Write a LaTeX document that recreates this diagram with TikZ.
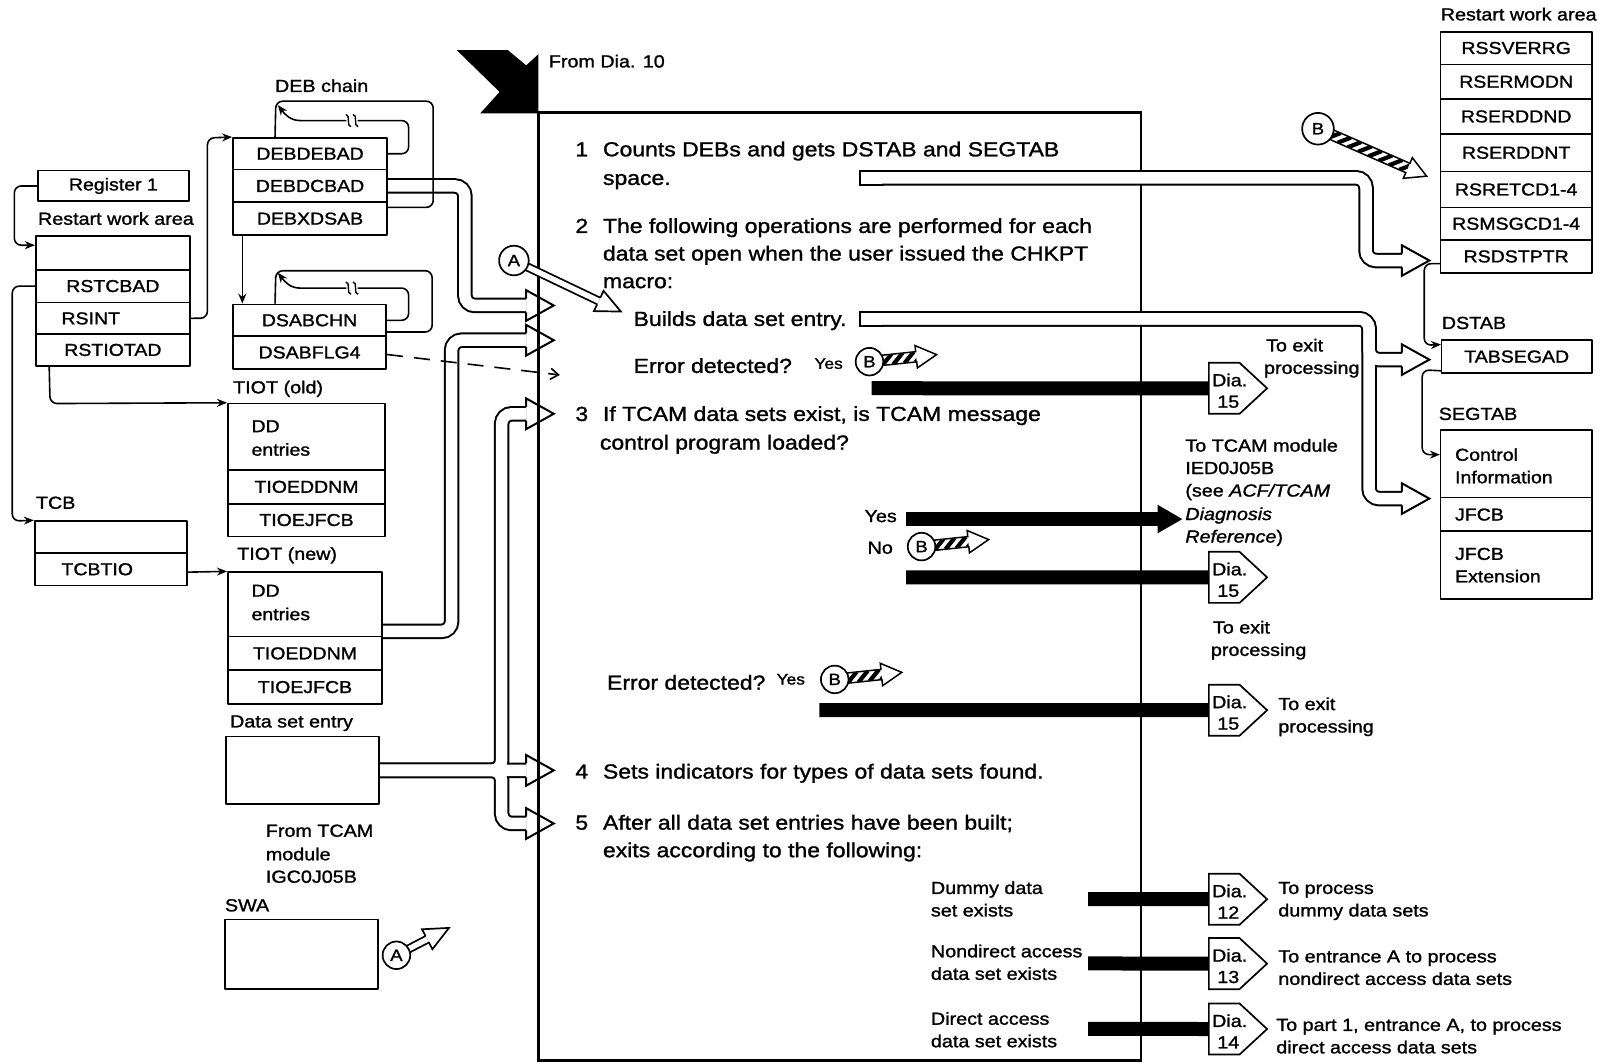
\documentclass[tikz,border=0pt]{standalone}
\usepackage{fontspec}
\setmainfont[FakeStretch=1.13,FakeBold=1.3]{Liberation Sans}
\usetikzlibrary{arrows.meta,calc}
\pgfdeclarelayer{frame}
\pgfdeclarelayer{bg}
\pgfsetlayers{frame,bg,main}
\tikzset{
  cell/.style 2 args={draw,line width=1.7pt,minimum width=#1pt,minimum height=#2pt,inner sep=0pt,font=\fontsize{16.9}{20}\selectfont},
  mt/.style={inner sep=0pt,anchor=base west,font=\fontsize{19.9}{24}\selectfont},
  lt/.style={inner sep=0pt,anchor=base west,font=\fontsize{17.1}{21}\selectfont},
  bt/.style={inner sep=0pt,anchor=base west,font=\fontsize{16.9}{20}\selectfont},
  st/.style={inner sep=0pt,anchor=base west,font=\fontsize{15}{18}\selectfont},
  ln/.style={line width=1.6pt,rounded corners=7pt},
  conn/.style={ln,-{Stealth[length=10pt,width=8pt]}},
  bar/.style={line width=14pt},
  circ/.style={circle,draw,fill=white,line width=1.7pt,minimum size=27pt,inner sep=0pt,font=\fontsize{16}{18}\selectfont},
  hh/.pic={\draw[line width=2pt,line join=miter] (0,-6.75) -- (0,-15) -- (27,0) -- (0,15) -- (0,6.75);},
  apipe/.pic={\draw[line width=9pt] (0,0) -- (#1,0); \draw[white,line width=5.4pt] (0,0) -- (#1,0);
    \draw[line width=1.7pt,line join=miter] (#1,-3.6) -- (#1,-11) -- (#1+24,0) -- (#1,11) -- (#1,3.6);},
  bh/.pic={\begin{scope}\clip (0,-5) rectangle (#1,5);
      \foreach \i in {6,17,...,130} \draw[line width=4.2pt] (\i-5,5) -- (\i+5,-5);\end{scope}
    \draw[line width=1.5pt,line join=miter] (0,-5) -- (#1,-5) -- (#1,-11) -- (#1+20,0) -- (#1,11) -- (#1,5) -- (0,5);},
  dia/.pic={\draw[line width=1.7pt,fill=white,line join=miter] (0,-25) -- (30,-25) -- (57,0) -- (30,25) -- (0,25) -- cycle;
    \node[lt] at (3,-2) {Dia.}; \node[lt,anchor=base] at (19,19) {#1};},
  brk/.pic={\draw[line width=1.4pt] (-6,-6) .. controls (-1,-6) and (-6,6) .. (-1,6);
    \draw[line width=1.4pt] (1,-6) .. controls (6,-6) and (1,6) .. (6,6);},
}
\begin{document}
\begin{tikzpicture}[x=1pt,y=-1pt,scale=1.0217,transform shape,line join=round]
\useasboundingbox (0,0) rectangle (1568,1041);

% process frame
\begin{pgfonlayer}{frame}
\draw[line width=2.4pt] (527,110) rectangle (1117,1038);
\end{pgfonlayer}
\fill (447,49) -- (497,49) -- (515,64) -- (527,53) -- (527,111) -- (470,111) -- (489,90) -- cycle;
\node[lt] (from10) at (537,66) {From Dia. 10};

% ---------- left data areas ----------
\node[cell={148}{30}] (reg) at (111,182) {Register 1};
\node[lt] (rwalbl) at (37,220) {Restart work area};
\node[cell={151}{33}] (rwa0) at (110.5,247.5) {};
\node[cell={151}{32}] (rstcbad) at (110.5,280) {RSTCBAD};
\node[cell={151}{31}] (rsint) at (110.5,311.5) {};
\node[bt] (rsintt) at (60,317.5) {RSINT};
\node[cell={151}{31}] (rstiotad) at (110.5,342.5) {RSTIOTAD};

\node[lt] (tcblbl) at (35,498) {TCB};
\node[cell={149}{31}] (tcb0) at (108.5,525.5) {};
\node[cell={149}{32}] (tcbtio) at (108.5,557) {};
\node[bt] (tcbtiot) at (60,563) {TCBTIO};

\node[lt] (deblbl) at (269,90) {DEB chain};
\node[cell={151}{31}] (debdebad) at (303.5,150.5) {DEBDEBAD};
\node[cell={151}{32}] (debdcbad) at (303.5,182) {DEBDCBAD};
\node[cell={151}{32}] (debxdsab) at (303.5,214) {DEBXDSAB};

\node[cell={150}{31}] (dsabchn) at (303,313.5) {DSABCHN};
\node[cell={150}{32}] (dsabflg4) at (303,345) {DSABFLG4};

\node[lt] (tiotoldl) at (228,385) {TIOT (old)};
\node[cell={154}{65}] (tiotold0) at (300,427.5) {};
\node[bt] (ddo1) at (246,423) {DD};
\node[bt] (ddo2) at (246,446) {entries};
\node[cell={154}{33}] (tiotold1) at (300,476.5) {TIOEDDNM};
\node[cell={154}{32}] (tiotold2) at (300,509) {TIOEJFCB};

\node[lt] (tiotnewl) at (232,548) {TIOT (new)};
\node[cell={151}{63}] (tiotnew0) at (298.5,591.5) {};
\node[bt] (ddn1) at (246,584) {DD};
\node[bt] (ddn2) at (246,607) {entries};
\node[cell={151}{33}] (tiotnew1) at (298.5,639.5) {TIOEDDNM};
\node[cell={151}{33}] (tiotnew2) at (298.5,672.5) {TIOEJFCB};

\node[lt] (dselbl) at (225,712) {Data set entry};
\node[cell={150}{66}] (dse) at (296,754) {};
\node[lt] (ftc1) at (260,819) {From TCAM};
\node[lt] (ftc2) at (260,842) {module};
\node[lt] (ftc3) at (260,864) {IGC0J05B};
\node[lt] (swalbl) at (220,892) {SWA};
\node[cell={150}{68}] (swa) at (295,934) {};

% ---------- left thin connectors ----------
\draw[conn] (reg.west) -- (14,182) -- (14,240) -- (rwa0.west |- 0,240);
\draw[conn] (rstcbad.west) -- (12,280) -- (12,510) -- (tcb0.north west);
\draw[conn] (rsint.east) -- (203,311.5) -- (203,135) -- (debdebad.north west);
\draw[conn] ($(rstiotad.south west)+(14,0)$) -- (49,395) -- (tiotold0.north west);
\draw[conn] (tcbtio.east |- 0,560) -- (tiotnew0.north west);
\draw[conn] ($(debxdsab.south west)+(10,0)$) -- ($(dsabchn.north west)+(10,0)$);

% DEB chain loops
\draw[ln] ($(debdebad.north west)+(42,0)$) -- (270,99) -- (424,99) -- (424,203) -- (debxdsab.east |- 0,203);
\draw[ln] (debdebad.east) -- (400,150.5) -- (400,118) -- (350,118);
\draw[line width=1.6pt,-{Stealth[length=10pt,width=8pt]}] (339,118) -- (294,118) .. controls (284,118) and (279,112) .. (272,103);
\pic at (344.5,118) {brk};
\draw[ln] ($(dsabchn.north west)+(42,0)$) -- (270,265) -- (423,265) -- (423,325) -- (dsabchn.east |- 0,325);
\draw[ln] (dsabchn.east) -- (400,313.5) -- (400,282) -- (350,282);
\draw[line width=1.6pt,-{Stealth[length=10pt,width=8pt]}] (339,282) -- (294,282) .. controls (284,282) and (279,276) .. (272,267);
\pic at (344.5,282) {brk};
\draw[line width=1.6pt,dash pattern=on 16pt off 11pt,-{Straight Barb[length=8pt,width=11pt]}] (dsabflg4.east |- 0,347) -- (548,367);

% ---------- right data areas ----------
\node[lt] (rwa2lbl) at (1410,20) {Restart work area};
\node[cell={148}{32}] (rssverrg) at (1484,47) {RSSVERRG};
\node[cell={148}{34}] (rsermodn) at (1484,80) {RSERMODN};
\node[cell={148}{34}] (rserddnd) at (1484,114) {RSERDDND};
\node[cell={148}{37}] (rserddnt) at (1484,149.5) {RSERDDNT};
\node[cell={148}{35}] (rsretcd) at (1484,185.5) {RSRETCD1-4};
\node[cell={148}{32}] (rsmsgcd) at (1484,219) {RSMSGCD1-4};
\node[cell={148}{32}] (rsdstptr) at (1484,251) {RSDSTPTR};

\node[lt] (dstablbl) at (1411,322) {DSTAB};
\node[cell={147}{32}] (tabsegad) at (1484.5,349) {TABSEGAD};
\node[lt] (segtablbl) at (1408,411) {SEGTAB};
\node[cell={148}{66}] (segtab0) at (1484,454) {};
\node[bt] (ci1) at (1424,451) {Control};
\node[bt] (ci2) at (1424,473) {Information};
\node[cell={148}{33}] (segtab1) at (1484,503.5) {};
\node[bt] (jf1) at (1424,509.5) {JFCB};
\node[cell={148}{66}] (segtab2) at (1484,553) {};
\node[bt] (jf2) at (1424,548) {JFCB};
\node[bt] (jf3) at (1424,570) {Extension};

\draw[conn] ($(rsdstptr.west)+(0,7)$) -- (1394,258) -- (1394,338) -- ($(tabsegad.north west)+(0,5)$);
\draw[conn] ($(tabsegad.south west)+(0,-3)$) -- (1392,362) -- (1392,445) -- (segtab0.west |- 0,445);

% ---------- wide hollow arrows ----------
\begin{pgfonlayer}{bg}
\foreach \c/\w in {black/15.5pt,white/11.5pt}{
  \draw[\c,line width=\w,rounded corners=10pt] (debdcbad.east) -- (455,182) -- (455,299) -- (515,299);
  \draw[\c,line width=\w,rounded corners=10pt] (tiotnew0.east |- 0,618) -- (442,618) -- (442,333) -- (515,333);
  \draw[\c,line width=\w,rounded corners=10pt] (dse.east) -- (515,754);
  \draw[\c,line width=\w,rounded corners=10pt] (dse.east) -- (491,754) -- (491,405) -- (515,405);
  \draw[\c,line width=\w,rounded corners=10pt] (dse.east) -- (491,754) -- (491,806) -- (515,806);
  \draw[\c,line width=\w,rounded corners=10pt] (848,174) -- (1337,174) -- (1337,255) -- (1372,255);
  \draw[\c,line width=\w,line cap=rect] (848,174) -- (858,174);
  \draw[\c,line width=\w,rounded corners=10pt] (848,312) -- (1340,312) -- (1340,352) -- (1372,352);
  \draw[\c,line width=\w,rounded corners=10pt] (848,312) -- (1340,312) -- (1340,488) -- (1372,488);
  \draw[\c,line width=\w,line cap=rect] (848,312) -- (858,312);
}
\end{pgfonlayer}
\foreach \p in {(515,299),(515,333),(515,405),(515,754),(515,806),(1372,255),(1372,352),(1372,488)}
  \pic at \p {hh};

% ---------- A and B connectors ----------
\pic[rotate=-25.5] at (503,255) {apipe=92};
\node[circ,minimum size=29pt] (a1) at (503,255) {A};
\pic[rotate=27.5] at (388,935) {apipe=34};
\node[circ] (a2) at (388,935) {A};
\pic[rotate=-23.6] at (1290,126) {bh=96};
\node[circ,minimum size=31pt] (btop) at (1290,126) {B};
\pic[rotate=6] at (851,354) {bh=46};
\node[circ] (b1) at (851,354) {B};
\pic[rotate=6] at (902,535) {bh=46};
\node[circ] (b2) at (902,535) {B};
\pic[rotate=6] at (817,665) {bh=46};
\node[circ] (b3) at (817,665) {B};

% ---------- process text ----------
\node[mt] (n1) at (563,153) {1};
\node[mt] (t1a) at (590,153) {Counts DEBs and gets DSTAB and SEGTAB};
\node[mt] (t1b) at (590,181) {space.};
\node[mt] (n2) at (563,228) {2};
\node[mt] (t2a) at (590,228) {The following operations are performed for each};
\node[mt] (t2b) at (590,255) {data set open when the user issued the CHKPT};
\node[mt] (t2c) at (590,282) {macro:};
\node[mt] (t2d) at (620,319) {Builds data set entry.};
\node[mt] (t2e) at (620,365) {Error detected?};
\node[st] (y1) at (797,361) {Yes};
\node[mt] (n3) at (563,412) {3};
\node[mt] (t3a) at (590,412) {If TCAM data sets exist, is TCAM message};
\node[mt] (t3b) at (587,440) {control program loaded?};
\node[lt] (y2) at (846,511) {Yes};
\node[lt] (no2) at (849,542) {No};
\node[mt] (t3c) at (594,675) {Error detected?};
\node[st] (y3) at (760,670) {Yes};
\node[mt] (n4) at (563,762) {4};
\node[mt] (t4) at (590,762) {Sets indicators for types of data sets found.};
\node[mt] (n5) at (563,812) {5};
\node[mt] (t5a) at (590,812) {After all data set entries have been built;};
\node[mt] (t5b) at (590,839) {exits according to the following:};
\node[lt] (e1a) at (911,875) {Dummy data};
\node[lt] (e1b) at (911,897) {set exists};
\node[lt] (e2a) at (911,937) {Nondirect access};
\node[lt] (e2b) at (911,959) {data set exists};
\node[lt] (e3a) at (911,1003) {Direct access};
\node[lt] (e3b) at (911,1025) {data set exists};

% ---------- exits ----------
\coordinate (d1) at (1183,380);
\coordinate (d2) at (1183,565);
\coordinate (d3) at (1183,695);
\coordinate (d12) at (1183,880);
\coordinate (d13) at (1183,943);
\coordinate (d14) at (1183,1007);
\coordinate (tcamtip) at (1157,508);
\draw[bar] (853,380) -- (d1);
\draw[bar] (887,565) -- (d2);
\draw[bar] (802,695) -- (d3);
\draw[bar] (1065,880) -- (d12);
\draw[bar] (1065,943) -- (d13);
\draw[bar] (1065,1007) -- (d14);
\draw[bar] (887,508) -- (1134,508);
\fill (1133,494) -- (tcamtip) -- (1133,522) -- cycle;
\pic at (d1) {dia=15};
\pic at (d2) {dia=15};
\pic at (d3) {dia=15};
\pic at (d12) {dia=12};
\pic at (d13) {dia=13};
\pic at (d14) {dia=14};

\node[lt] (x1a) at (1239,344) {To exit};
\node[lt] (x1b) at (1237,366) {processing};
\node[lt] (tc1) at (1160,442) {To TCAM module};
\node[lt] (tc2) at (1160,464) {IED0J05B};
\node[lt] (tc3) at (1160,486) {(see \textit{ACF/TCAM}};
\node[lt] (tc4) at (1160,509) {\textit{Diagnosis}};
\node[lt] (tc5) at (1160,531) {\textit{Reference})};
\node[lt] (x2a) at (1187,620) {To exit};
\node[lt] (x2b) at (1185,642) {processing};
\node[lt] (x3a) at (1251,695) {To exit};
\node[lt] (x3b) at (1251,717) {processing};
\node[lt] (r1a) at (1251,875) {To process};
\node[lt] (r1b) at (1251,897) {dummy data sets};
\node[lt] (r2a) at (1251,942) {To entrance A to process};
\node[lt] (r2b) at (1251,964) {nondirect access data sets};
\node[lt] (r3a) at (1249,1009) {To part 1, entrance A, to process};
\node[lt] (r3b) at (1249,1031) {direct access data sets};
\end{tikzpicture}
\end{document}
